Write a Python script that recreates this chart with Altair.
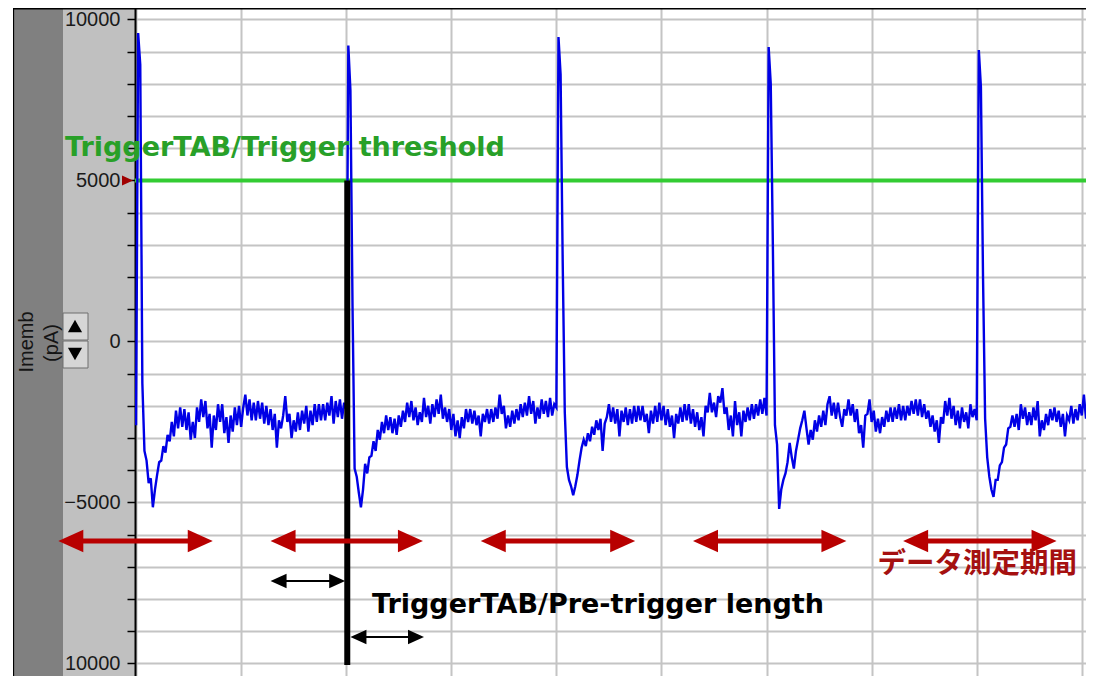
import altair as alt
import pandas as pd

# ---------------- data ----------------
DT = 0.2          # sampling interval (ms)
PERIOD = 20.0     # sweep-to-sweep spacing used to place each cycle (ms)

cycle0 = [-2600, 9580, 8600, -1300, -3400, -3700, -4400, -4250, -5150, -4600,
          -4150, -3750, -3700, -3250, -3450, -2900, -3100, -2500, -2950, -2150,
          -2700, -2050, -2650, -2100, -2750, -2200, -3050, -2500, -3000, -2050,
          -2500, -1800, -2350, -1850, -2700, -2250, -3300, -2300, -2750, -1950,
          -2500, -1950, -2850, -2350, -3150, -2300, -2800, -2050, -2600, -2000,
          -2650, -2050, -1650, -2300, -1800, -2450, -1900, -2450, -1850, -2400,
          -1900, -2550, -2000, -2600, -2100, -2750, -2250, -3300, -2450, -2700,
          -2300, -1700, -2500, -2250, -3000, -2450, -2800, -2200, -2750, -2150,
          -2550, -2000, -2800, -2150, -2600, -1950, -2500, -1950, -2450, -1950,
          -2450, -1900, -2300, -1700, -2550, -1850, -2350, -1800, -2400, -1900]
cycle1 = [-2100, 9190, 7800, 1100, -3950, -4200, -4700, -5150, -4600, -3800,
          -4100, -3600, -3550, -3100, -3400, -2750, -3050, -2500, -2850, -2300,
          -2750, -2350, -2850, -2400, -2900, -2300, -2650, -2150, -2500, -1900,
          -2350, -1850, -2450, -2050, -2600, -2200, -2500, -1750, -2350, -2000,
          -2550, -1950, -2350, -1800, -2250, -1650, -2400, -2050, -2500, -2100,
          -2750, -2250, -2950, -2450, -3000, -2350, -2700, -2100, -2500, -2100,
          -2550, -2150, -2600, -2300, -2950, -2250, -2500, -2100, -2550, -2100,
          -2500, -2050, -2400, -1650, -2250, -2000, -2700, -2300, -2650, -2150,
          -2550, -2100, -2450, -1950, -2350, -1900, -2300, -1700, -2250, -1850,
          -2550, -2050, -2400, -1800, -2250, -1850, -2350, -1750, -2300, -1950]
cycle2 = [-2050, 9456, 8300, 2500, -2200, -3900, -4300, -4500, -4780, -4500,
          -4150, -3700, -3300, -3050, -3250, -2850, -3100, -2650, -2900, -2450,
          -2750, -2400, -3400, -2550, -2350, -1950, -2500, -2050, -2550, -2100,
          -2950, -2150, -2500, -2050, -2600, -2100, -2550, -2000, -2500, -2000,
          -2450, -2000, -2500, -2250, -2850, -2150, -2550, -2000, -2500, -1900,
          -2450, -2000, -2600, -2100, -2650, -2300, -3000, -2250, -2550, -2050,
          -2500, -1950, -2450, -1950, -2550, -2100, -2650, -2200, -2750, -2350,
          -2950, -2000, -2200, -1600, -2200, -1900, -2350, -1700, -1900, -1450,
          -2250, -2050, -2750, -2300, -2950, -1850, -2600, -2200, -2950, -2150,
          -2500, -2050, -2450, -1950, -2400, -1950, -2300, -1800, -2250, -1750]
cycle3 = [-2300, 9146, 8000, 3000, -2600, -3200, -5200, -4600, -4300, -4100,
          -3750, -3150, -3600, -3950, -3400, -3050, -2700, -2450, -2150, -2700,
          -3200, -2750, -3050, -2450, -2800, -2300, -2650, -2150, -2600, -1950,
          -1700, -2300, -1900, -2400, -1900, -2350, -2650, -2100, -2300, -1800,
          -2300, -1950, -2500, -2100, -2850, -2600, -3300, -2300, -2250, -1800,
          -2500, -2150, -2800, -2400, -2850, -2350, -2650, -2150, -2500, -2050,
          -2500, -2050, -2400, -1950, -2450, -2000, -2450, -2000, -2300, -1850,
          -2250, -1800, -2300, -1800, -2350, -1950, -2400, -2150, -2650, -2300,
          -2800, -2450, -3150, -2350, -2550, -1850, -2300, -1750, -2400, -2000,
          -2600, -2150, -2700, -2050, -2500, -2200, -2700, -1950, -2350, -2100]
cycle4 = [-2450, 9050, 7900, 2000, -2400, -3600, -4200, -4600, -4830, -4300,
          -4300, -3850, -3750, -3300, -3200, -2700, -2650, -2300, -2650, -2250,
          -2750, -1950, -2400, -2050, -2600, -2200, -2600, -2050, -2450, -1850,
          -2950, -2450, -2750, -2250, -2600, -2100, -2450, -2050, -2500, -2150,
          -2650, -2250, -2950, -2300, -2450, -2000, -2550, -2100, -2450, -1950,
          -2300, -1650, -2400, -1950, -2500, -2150, -2550]
cycles = [cycle0, cycle1, cycle2, cycle3, cycle4]

y_ticks = list(range(-10000, 10001, 1000))
x_grid = [0, 10, 20, 30, 40, 50, 60, 70, 80, 90]

threshold = 5000
trigger_t = 20.1
trigger_bottom = -10050

period_start = [-7.4, 12.8, 32.8, 53.0, 73.0]
period_end = [7.3, 27.3, 47.5, 67.6, 87.6]
period_level = -6200

pre_start = [12.8, 20.4]
pre_end = [19.9, 27.4]
pre_level = [-7440, -9180]

label_text = ["TriggerTAB/Trigger threshold", "TriggerTAB/Pre-trigger length", "データ測定期間"]
label_t = [-6.76, 22.45, 70.55]
label_v = [5760, -8434, -6912]

# ---------------- tables ----------------
tt, vv = [], []
for k, cyc in enumerate(cycles):
    for i, val in enumerate(cyc):
        tt.append(round(k * PERIOD + i * DT, 2))
        vv.append(val)
trace_df = pd.DataFrame({"t": tt, "v": vv})

W, H = 951, 668
xscale = alt.Scale(domain=[-0.1, 90.4], nice=False, zero=False)
yscale = alt.Scale(domain=[-10391, 10357], nice=False, zero=False)
GRID = "#c4c4c4"
xaxis = alt.Axis(values=x_grid, grid=True, gridColor=GRID, gridWidth=2, labels=False,
                 ticks=False, domain=False, title=None)
yaxis = alt.Axis(values=y_ticks, grid=True, gridColor=GRID, gridWidth=2, domain=True,
                 domainColor="#000000", domainWidth=2, ticks=True, tickColor="#000000",
                 tickWidth=1.5, tickSize=8, labelPadding=7, labelFont="Liberation Sans",
                 labelFontSize=20, labelColor="#1a1a1a", format="d", labelOverlap=False,
                 labelExpr="datum.value % 5000 == 0 ? (datum.value == -10000 ? '10000' : datum.label) : ''",
                 title=None)


def X(f):
    return alt.X(f"{f}:Q", scale=xscale, axis=xaxis)


def Y(f):
    return alt.Y(f"{f}:Q", scale=yscale, axis=yaxis)


one = pd.DataFrame({"k": [0]})
RED = "#b80000"
RIGHT_HEAD = "M1,0L-1,-0.9L-1,0.9Z"
LEFT_HEAD = "M-1,0L1,-0.9L1,0.9Z"


def box(x1, x2, y1, y2, fill, stroke=None):
    kw = dict(color=fill)
    if stroke:
        kw.update(stroke=stroke, strokeWidth=1)
    return alt.Chart(one).mark_rect(**kw).encode(
        x=alt.value(x1), x2=alt.value(x2), y=alt.value(y1), y2=alt.value(y2))


panels = [
    box(-127, -122, 0, H, "#ffffff"),
    box(-122, -120.5, 0, H, "#000000"),
    box(-120.5, -72, 0, H, "#808080"),
    box(-72, -47, 305, 332, "#d6d6d6", "#6e6e6e"),
    box(-72, -47, 333, 360, "#d6d6d6", "#6e6e6e"),
]
top_border = alt.Chart(one).mark_rule(color="#000000", strokeWidth=1.5).encode(
    x=alt.value(-122), x2=alt.value(W), y=alt.value(0.75))

spin_up = alt.Chart(one).mark_point(shape="M0,-0.9L1,0.9L-1,0.9Z", size=200, filled=True,
                                    color="#000000", opacity=1, strokeWidth=0).encode(
    x=alt.value(-60), y=alt.value(318))
spin_dn = alt.Chart(one).mark_point(shape="M0,0.9L1,-0.9L-1,-0.9Z", size=200, filled=True,
                                    color="#000000", opacity=1, strokeWidth=0).encode(
    x=alt.value(-60), y=alt.value(346))

title1 = alt.Chart(one).mark_text(angle=270, fontSize=20, font="Liberation Sans",
                                  color="#141414").encode(
    x=alt.value(-108), y=alt.value(334), text=alt.value("Imemb"))
title2 = alt.Chart(one).mark_text(angle=270, fontSize=20, font="Liberation Sans",
                                  color="#141414").encode(
    x=alt.value(-83), y=alt.value(335), text=alt.value("(pA)"))

thr_df = pd.DataFrame({"v": [threshold]})
green = alt.Chart(thr_df).mark_rule(color="#33cc33", strokeWidth=4).encode(y=Y("v"))
thr_marker = alt.Chart(thr_df).mark_point(shape=RIGHT_HEAD, size=121, filled=True,
                                          color="#a00000", opacity=1, strokeWidth=0).encode(
    x=alt.value(-7.5), y=Y("v"))

trace = alt.Chart(trace_df).mark_line(color="#0000e6", strokeWidth=2.4, clip=True).encode(
    x=X("t"), y=Y("v"))

trig = alt.Chart(pd.DataFrame({"t": [trigger_t], "v": [threshold], "v2": [trigger_bottom]})).mark_rule(
    color="#000000", strokeWidth=6).encode(x=X("t"), y=Y("v"), y2="v2:Q")

red_df = pd.DataFrame({"a": period_start, "b": period_end, "v": [period_level] * len(period_start)})
red_shaft = alt.Chart(red_df).mark_rule(color=RED, strokeWidth=5, xOffset=12, x2Offset=-12).encode(
    x=X("a"), x2="b:Q", y=Y("v"))
red_r = alt.Chart(red_df).mark_point(shape=RIGHT_HEAD, size=625, filled=True, color=RED,
                                     opacity=1, strokeWidth=0, xOffset=-12.5).encode(x=X("b"), y=Y("v"))
red_l = alt.Chart(red_df).mark_point(shape=LEFT_HEAD, size=625, filled=True, color=RED,
                                     opacity=1, strokeWidth=0, xOffset=12.5).encode(x=X("a"), y=Y("v"))

blk_df = pd.DataFrame({"a": pre_start, "b": pre_end, "v": pre_level})
blk_shaft = alt.Chart(blk_df).mark_rule(color="#000000", strokeWidth=2, xOffset=8, x2Offset=-8).encode(
    x=X("a"), x2="b:Q", y=Y("v"))
blk_r = alt.Chart(blk_df).mark_point(shape=RIGHT_HEAD, size=256, filled=True, color="#000000",
                                     opacity=1, strokeWidth=0, xOffset=-8).encode(x=X("b"), y=Y("v"))
blk_l = alt.Chart(blk_df).mark_point(shape=LEFT_HEAD, size=256, filled=True, color="#000000",
                                     opacity=1, strokeWidth=0, xOffset=8).encode(x=X("a"), y=Y("v"))


def label(i, color, font, size, baseline):
    df = pd.DataFrame({"t": [label_t[i]], "v": [label_v[i]], "s": [label_text[i]]})
    return alt.Chart(df).mark_text(align="left", baseline=baseline, font=font, fontWeight="bold",
                                   fontSize=size, color=color).encode(x=X("t"), y=Y("v"), text="s:N")


txt_green = label(0, "#28a028", "DejaVu Sans", 27, "alphabetic")
txt_black = label(1, "#000000", "DejaVu Sans", 27, "alphabetic")
txt_red = label(2, "#a51010", "Noto Sans CJK JP", 28.5, "middle")

chart = alt.layer(
    *panels, top_border, spin_up, spin_dn, title1, title2,
    green, trace, trig, thr_marker,
    red_shaft, red_r, red_l, blk_shaft, blk_r, blk_l,
    txt_green, txt_black, txt_red,
).properties(
    width=W, height=H,
    background="#c0c0c0",
    padding={"left": 127, "top": 0, "right": 0, "bottom": 0},
    autosize=alt.AutoSizeParams(type="none"),
).configure_view(strokeWidth=0, fill="#ffffff")

chart.save("out.html", embed_options={"renderer": "svg", "actions": False})
